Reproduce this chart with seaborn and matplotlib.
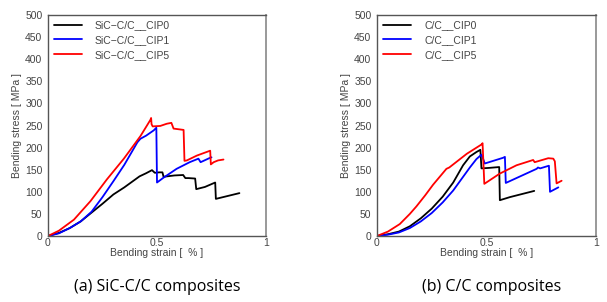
import numpy as np
import pandas as pd
import seaborn as sns
import matplotlib
matplotlib.use("Agg")
import matplotlib.pyplot as plt
from matplotlib.ticker import MultipleLocator

# ------------------------------
# Data (strain %, stress MPa)
# ------------------------------
sic_cip0_strain = [0, 0.05, 0.1, 0.15, 0.2, 0.25, 0.3, 0.35, 0.42, 0.45, 0.477, 0.49, 0.51, 0.525,
                   0.53, 0.58, 0.62, 0.63, 0.645, 0.675, 0.68, 0.72, 0.767, 0.77, 0.878]
sic_cip0_stress = [0, 7, 18, 33, 53, 73, 94, 110, 135, 142, 149, 143, 144, 144,
                   134, 137, 138, 131, 131, 130, 106, 111, 121, 84, 97]

sic_cip1_strain = [0, 0.05, 0.1, 0.15, 0.2, 0.25, 0.3, 0.35, 0.41, 0.424, 0.45, 0.485, 0.497,
                   0.5, 0.53, 0.59, 0.65, 0.69, 0.70, 0.744, 0.75]
sic_cip1_stress = [0, 6, 18, 33, 55, 88, 124, 161, 212, 220, 227, 239, 245,
                   121, 132, 152, 167, 175, 167, 177, 178]

sic_cip5_strain = [0, 0.05, 0.119, 0.195, 0.27, 0.348, 0.424, 0.454, 0.47, 0.473, 0.475, 0.48,
                   0.515, 0.545, 0.566, 0.576, 0.607, 0.622, 0.626, 0.637, 0.683, 0.744,
                   0.747, 0.76, 0.78, 0.805]
sic_cip5_stress = [0, 12, 37, 79, 128, 175, 226, 250, 263, 267, 253, 248,
                   249, 254, 256, 243, 241, 240, 170, 171, 182, 193,
                   162, 167, 171, 173]

cc_cip0_strain = [0, 0.05, 0.1, 0.15, 0.2, 0.25, 0.3, 0.348, 0.393, 0.424, 0.454, 0.472, 0.477,
                  0.51, 0.558, 0.561, 0.607, 0.718]
cc_cip0_stress = [0, 4, 10, 22, 40, 62, 89, 121, 160, 180, 190, 195, 153,
                  154, 156, 81, 88, 102]

cc_cip1_strain = [0, 0.05, 0.1, 0.15, 0.2, 0.25, 0.3, 0.348, 0.424, 0.454, 0.477, 0.485, 0.492,
                  0.576, 0.584, 0.588, 0.729, 0.735, 0.745, 0.785, 0.79, 0.828]
cc_cip1_stress = [0, 3, 8, 18, 33, 52, 76, 103, 155, 174, 184, 174, 164,
                  177, 179, 120, 152, 155, 153, 159, 100, 110]

cc_cip5_strain = [0, 0.05, 0.104, 0.15, 0.18, 0.22, 0.256, 0.317, 0.33, 0.41, 0.477, 0.482, 0.49,
                  0.56, 0.637, 0.713, 0.72, 0.782, 0.805, 0.812, 0.82, 0.843]
cc_cip5_stress = [0, 10, 27, 50, 67, 92, 116, 152, 155, 186, 207, 210, 118,
                  141, 160, 172, 167, 176, 175, 169, 119, 125]

SIC_LABELS = ["SiC\u2212C/C__CIP0", "SiC\u2212C/C__CIP1", "SiC\u2212C/C__CIP5"]
CC_LABELS = ["C/C__CIP0", "C/C__CIP1", "C/C__CIP5"]
COLORS = ["#000000", "#0000ff", "#ff0000"]
TEXT_GREY = "#444444"


def build_frame(strains, stresses, labels):
    parts = []
    for s, t, lab in zip(strains, stresses, labels):
        parts.append(pd.DataFrame({"strain": s, "stress": t, "series": lab}))
    return pd.concat(parts, ignore_index=True)


sic_df = build_frame([sic_cip0_strain, sic_cip1_strain, sic_cip5_strain],
                     [sic_cip0_stress, sic_cip1_stress, sic_cip5_stress], SIC_LABELS)
cc_df = build_frame([cc_cip0_strain, cc_cip1_strain, cc_cip5_strain],
                    [cc_cip0_stress, cc_cip1_stress, cc_cip5_stress], CC_LABELS)

sns.set_theme(style="white")
plt.rcParams["font.family"] = ["Liberation Sans", "DejaVu Sans"]

fig = plt.figure(figsize=(6.07, 3.02), dpi=100)
ax_a = fig.add_axes([48 / 607, 1 - 236 / 302, 218 / 607, 221 / 302])
ax_b = fig.add_axes([377 / 607, 1 - 236 / 302, 219 / 607, 221 / 302])


def draw_panel(ax, df, labels):
    sns.lineplot(data=df, x="strain", y="stress", hue="series", hue_order=labels,
                 palette=dict(zip(labels, COLORS)), sort=False, estimator=None,
                 linewidth=1.3, ax=ax)
    ax.set_xlim(0, 1)
    ax.set_ylim(0, 500)
    ax.set_xticks([0, 0.5, 1], labels=["0", "0.5", "1"])
    ax.xaxis.set_minor_locator(MultipleLocator(0.1))
    ax.yaxis.set_major_locator(MultipleLocator(50))
    ax.tick_params(axis="x", which="both", direction="in", length=3, width=0.8,
                   color=TEXT_GREY, labelsize=7.5, labelcolor=TEXT_GREY, pad=1.5)
    ax.tick_params(axis="y", which="major", direction="out", length=3, width=0.8,
                   color=TEXT_GREY, labelsize=7.5, labelcolor=TEXT_GREY, pad=1)
    ax.set_xlabel("Bending strain [  % ]", fontsize=7.5, color=TEXT_GREY, labelpad=0)
    ax.set_ylabel("Bending stress [ MPa ]", fontsize=7.5, color=TEXT_GREY, labelpad=2)
    for side in ["left", "bottom", "top"]:
        ax.spines[side].set_color("#555555")
        ax.spines[side].set_linewidth(1.0)
    ax.spines["right"].set_color("#999999")
    ax.spines["right"].set_linewidth(1.4)
    ax.legend(loc="upper left", bbox_to_anchor=(0.02, 0.985), frameon=False,
              fontsize=7.5, handlelength=2.6, handletextpad=1.3,
              labelspacing=0.45, borderaxespad=0, borderpad=0.2,
              labelcolor=TEXT_GREY)


draw_panel(ax_a, sic_df, SIC_LABELS)
draw_panel(ax_b, cc_df, CC_LABELS)

fig.text(157 / 607, 1 - 287 / 302, "(a) SiC-C/C composites", ha="center", va="center",
         fontsize=11.5, family=["Open Sans", "DejaVu Sans"], color="#000000")
fig.text(492 / 607, 1 - 287 / 302, "(b) C/C composites", ha="center", va="center",
         fontsize=11.5, family=["Open Sans", "DejaVu Sans"], color="#000000")

fig.savefig("out.png", dpi=100)
